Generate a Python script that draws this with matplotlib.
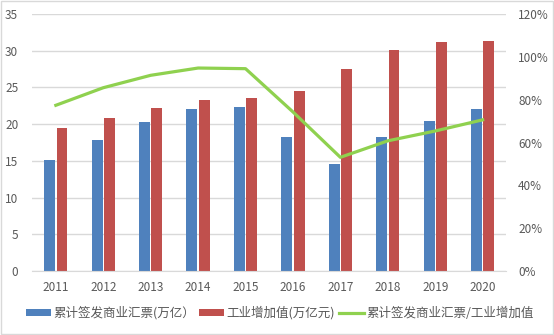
import matplotlib
matplotlib.use("Agg")
import matplotlib.pyplot as plt
import numpy as np
from matplotlib.patches import Rectangle

plt.rcParams['font.family'] = ['Noto Sans CJK SC', 'DejaVu Sans']

years = ["2011", "2012", "2013", "2014", "2015", "2016", "2017", "2018", "2019", "2020"]
bills = [15.1, 17.9, 20.3, 22.1, 22.3, 18.2, 14.6, 18.3, 20.4, 22.1]
industry = [19.5, 20.9, 22.2, 23.3, 23.6, 24.5, 27.5, 30.1, 31.2, 31.3]
ratio = [77.4, 85.6, 91.4, 94.8, 94.5, 74.3, 53.1, 60.8, 65.4, 70.6]

label_bills = "累计签发商业汇票(万亿）"
label_industry = "工业增加值(万亿元)"
label_ratio = "累计签发商业汇票/工业增加值"

blue = "#4f81bd"
red = "#c0504d"
green = "#8fd14f"
grid_c = "#d9d9d9"
text_c = "#595959"

fig = plt.figure(figsize=(5.54, 3.35), dpi=100)
fig.patches.append(Rectangle((0.001, 0.002), 0.997, 0.995, transform=fig.transFigure,
                             fill=False, edgecolor="#d9d9d9", linewidth=1.0))
ax = fig.add_axes([0.058, 0.191, 0.856, 0.767])
ax2 = ax.twinx()

x = np.arange(len(years))
w = 0.23
gap = 0.03
ax.bar(x - w / 2 - gap / 2, bills, width=w, color=blue, label=label_bills, zorder=2)
ax.bar(x + w / 2 + gap / 2, industry, width=w, color=red, label=label_industry, zorder=2)
ax2.plot(x, ratio, color=green, linewidth=2.3, label=label_ratio, zorder=3)

ax.set_xlim(-0.5, len(years) - 0.5)
ax.set_ylim(0, 35)
ax.set_yticks(np.arange(0, 36, 5))
ax2.set_ylim(0, 120)
ax2.set_yticks(np.arange(0, 121, 20))
ax2.set_yticklabels([f"{v}%" for v in range(0, 121, 20)])
ax.set_xticks(x)
ax.set_xticklabels(years)

ax.yaxis.grid(True, color=grid_c, linewidth=1.0, zorder=0)
ax.set_axisbelow(True)
for a in (ax, ax2):
    for s in a.spines.values():
        s.set_visible(False)
    a.tick_params(length=0, colors=text_c, labelsize=8.5)
ax.spines['bottom'].set_visible(True)
ax.spines['bottom'].set_color(grid_c)
ax.tick_params(axis='y', pad=10)
ax.tick_params(axis='x', pad=7)
ax2.tick_params(axis='y', pad=8.5)

h1, l1 = ax.get_legend_handles_labels()
h2, l2 = ax2.get_legend_handles_labels()
leg = fig.legend(h1 + h2, l1 + l2, loc="center", bbox_to_anchor=(0.505, 0.066), ncol=3,
                 frameon=False, fontsize=9, handlelength=2.0, handleheight=0.5,
                 columnspacing=0.3, handletextpad=0.2, labelcolor=text_c)

fig.savefig("out.png", dpi=100)
